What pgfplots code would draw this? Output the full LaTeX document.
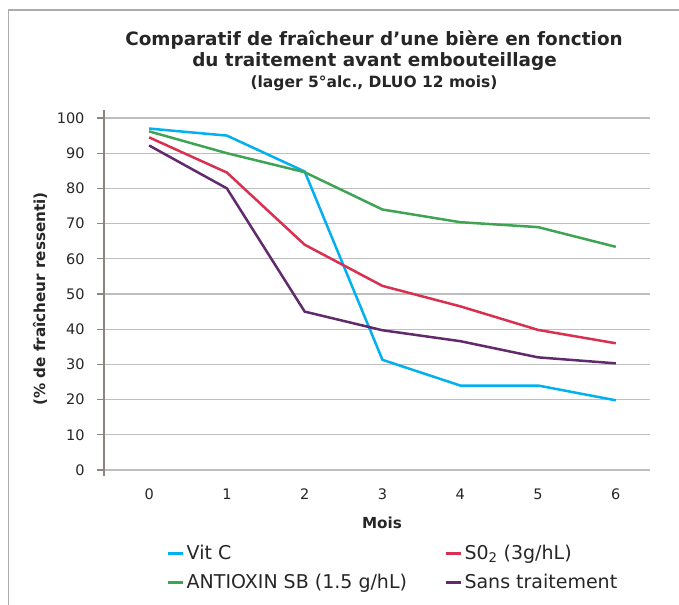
\documentclass[border=0pt]{standalone}
\usepackage{pgfplots}
\pgfplotsset{compat=1.18}
\usepackage{fontspec}
\setmainfont{DejaVu Sans}
\definecolor{cBlue}{RGB}{0,176,240}
\definecolor{cRed}{RGB}{218,48,80}
\definecolor{cGreen}{RGB}{62,164,84}
\definecolor{cPurple}{RGB}{96,42,108}
\definecolor{cGrid}{RGB}{190,190,190}
\definecolor{cAxis}{RGB}{140,132,128}
\definecolor{cText}{RGB}{38,38,38}
\begin{document}
\begin{tikzpicture}
\path[use as bounding box] (0bp,0bp) rectangle (679bp,605bp);
\draw[cGrid!90!black, line width=1.5bp] (8.5bp,0bp) -- (8.5bp,595bp) -- (679bp,595bp);
\begin{axis}[
  at={(104bp,135bp)}, anchor=south west,
  scale only axis, width=546bp, height=352bp,
  xmin=-0.58, xmax=6.44, ymin=0, ymax=100,
  xtick={0,...,6}, ytick={0,10,...,100},
  axis x line=bottom, axis y line=left,
  axis line style={-},
  x axis line style={cGrid, line width=1.2bp},
  y axis line style={cAxis, line width=1.2bp, shorten <=-6bp, shorten >=-8bp},
  ymajorgrids, grid style={cGrid, line width=1.2bp},
  tick align=outside, major tick length=7bp,
  ytick style={cAxis, line width=1.2bp},
  xtick style={draw=none},
  ticklabel style={font=\fontsize{14.5bp}{16bp}\selectfont, text=cText},
  yticklabel style={xshift=-9bp},
  xticklabel style={yshift=-8bp},
  /pgf/number format/assume math mode=true,
  legend columns=2,
  legend style={at={(axis description cs:0.1154,-0.208)}, anchor=north west,
    draw=none, fill=none, inner sep=0pt,
    font=\fontsize{19bp}{22bp}\selectfont, text=cText,
    /tikz/every even column/.append style={column sep=36bp},
    row sep=9bp},
  legend cell align=left,
  legend image code/.code={\draw[#1, line width=2.5bp] (0,0) -- (15bp,0);},
  every axis plot/.append style={line width=2.5bp},
]
\addplot[cBlue] coordinates {(0,97) (1,95) (2,84.8) (3,31.3) (4,24) (5,24) (6,19.8)};
\addlegendentry{Vit C}
\addplot[cRed] coordinates {(0,94.5) (1,84.5) (2,64) (3,52.3) (4,46.5) (5,39.8) (6,36)};
\addlegendentry{S0\textsubscript{2} (3g/hL)}
\addplot[cGreen] coordinates {(0,96.2) (1,90) (2,84.6) (3,74) (4,70.4) (5,69) (6,63.4)};
\addlegendentry{ANTIOXIN SB (1.5 g/hL)}
\addplot[cPurple] coordinates {(0,92.2) (1,80) (2,45) (3,39.7) (4,36.6) (5,32) (6,30.3)};
\addlegendentry{Sans traitement}
\end{axis}
\node[text=cText, font=\fontsize{18.4bp}{20bp}\selectfont\bfseries] at (374bp,565bp) {Comparatif de fraîcheur d’une bière en fonction};
\node[text=cText, font=\fontsize{18.4bp}{20bp}\selectfont\bfseries] at (374.5bp,543bp) {du traitement avant embouteillage};
\node[text=cText, font=\fontsize{15.5bp}{18bp}\selectfont\bfseries] at (374bp,522bp) {(lager 5°alc., DLUO 12 mois)};
\node[text=cText, font=\fontsize{15.2bp}{18bp}\selectfont\bfseries, rotate=90] at (40bp,306bp) {(\% de fraîcheur ressenti)};
\node[text=cText, font=\fontsize{15.2bp}{18bp}\selectfont\bfseries] at (382bp,82bp) {Mois};
\end{tikzpicture}
\end{document}
